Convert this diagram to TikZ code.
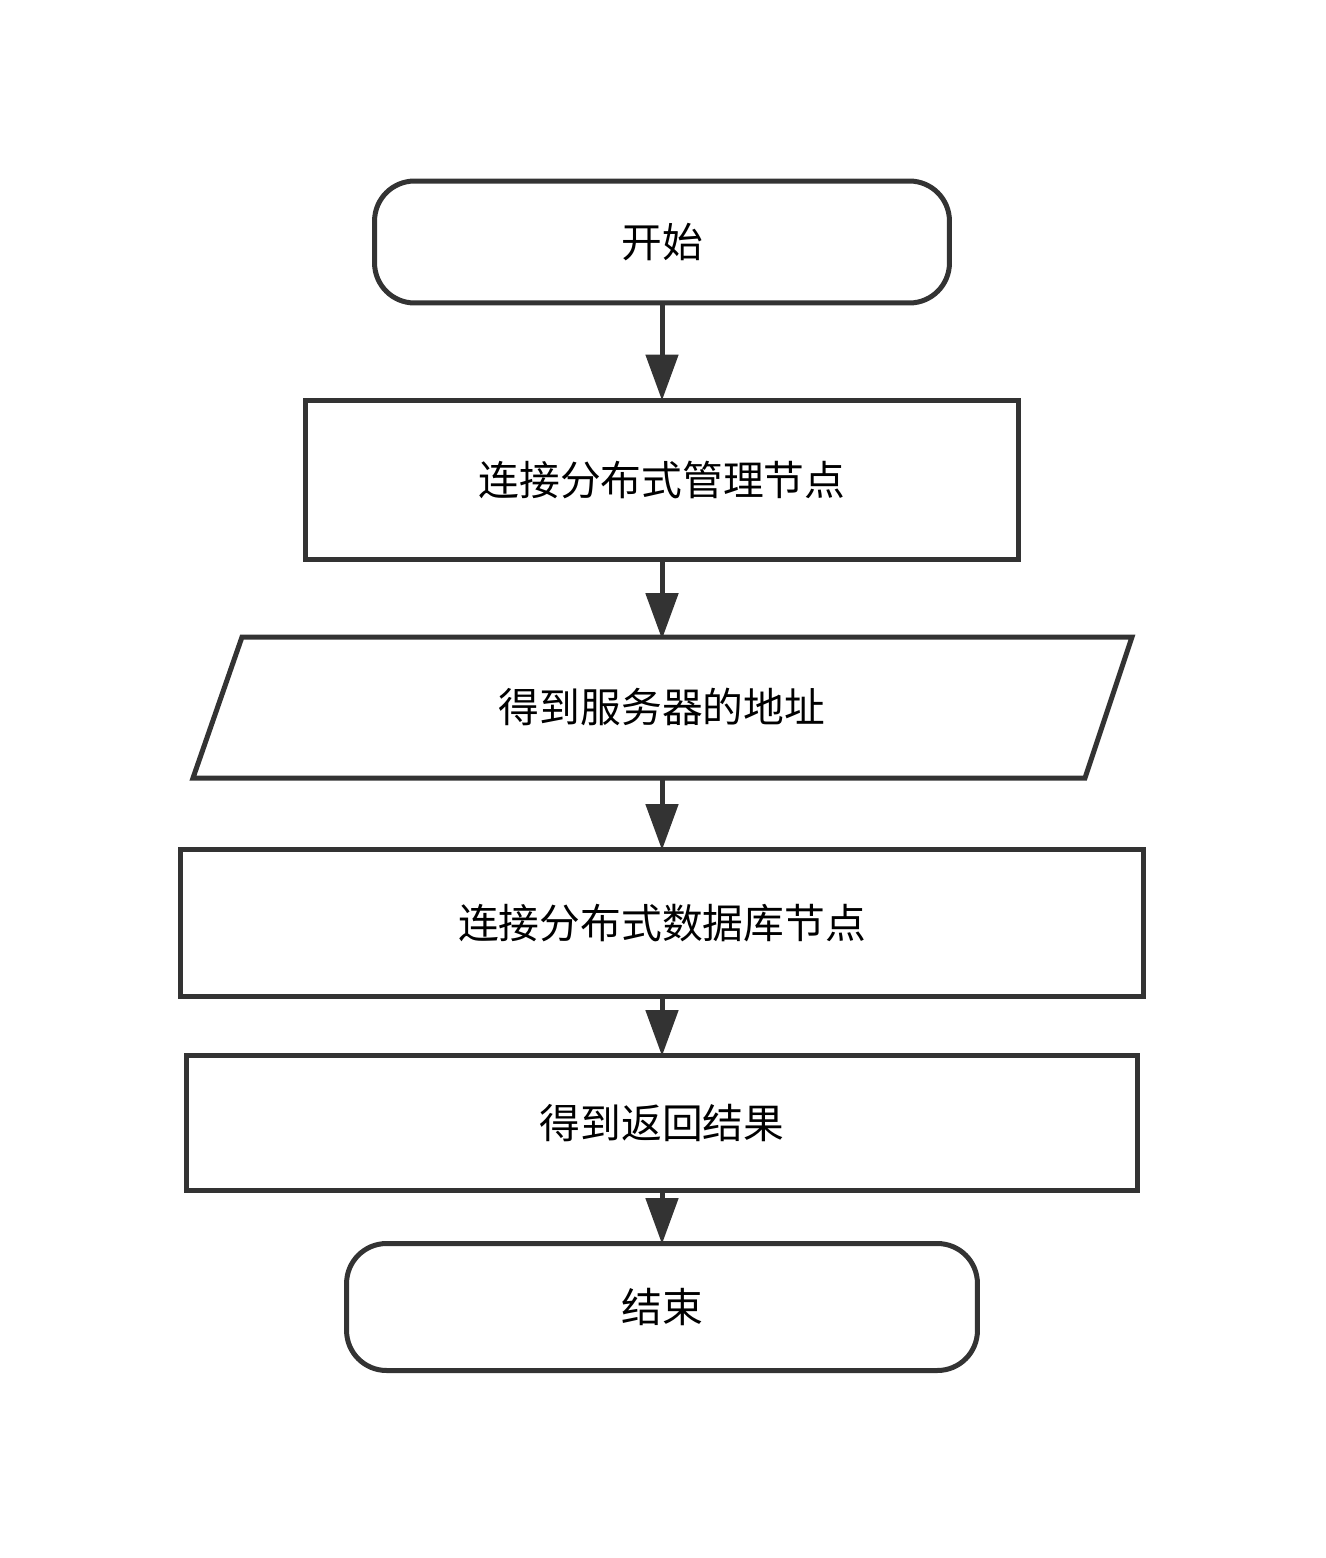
\documentclass[tikz,border=0pt]{standalone}
\usepackage{fontspec}
\newfontfamily\cjk{Noto Sans CJK SC}
\usetikzlibrary{arrows.meta}
\definecolor{edge}{HTML}{333333}
\begin{document}
\begin{tikzpicture}[x=0.02cm,y=-0.02cm,
  every node/.style={font=\cjk\fontsize{23.2}{28}\selectfont, text=black},
  box/.style={draw=edge, line width=0.1cm, rectangle, inner sep=0pt},
  term/.style={box, rounded corners=0.8cm},
  flow/.style={draw=edge, line width=0.1cm, -{Triangle[width=0.64cm,length=0.92cm]}, edge, shorten >=-0.06cm}]
\useasboundingbox (0,0) rectangle (1325,1558);

\node[term, minimum width=11.5cm, minimum height=2.44cm] (start) at (662,242) {开始};
\node[box, minimum width=14.26cm, minimum height=3.2cm] (mgr) at (662,480) {连接分布式管理节点};

% input/output parallelogram
\draw[edge, line width=0.1cm, line join=miter] (242,637) -- (1132,637) -- (1085,778) -- (193,778) -- cycle;
\node[inner sep=0pt, minimum width=17.8cm, minimum height=2.82cm] (addr) at (662,707) {得到服务器的地址};

\node[box, minimum width=19.26cm, minimum height=2.94cm] (db) at (662,923) {连接分布式数据库节点};
\node[box, minimum width=19.02cm, minimum height=2.7cm] (res) at (662,1123) {得到返回结果};
\node[term, minimum width=12.62cm, minimum height=2.54cm] (stop) at (662,1307) {结束};

\draw[flow] (start) -- (mgr);
\draw[flow] (mgr) -- (addr);
\draw[flow] (addr) -- (db);
\draw[flow] (db) -- (res);
\draw[flow] (res) -- (stop);
\end{tikzpicture}
\end{document}
